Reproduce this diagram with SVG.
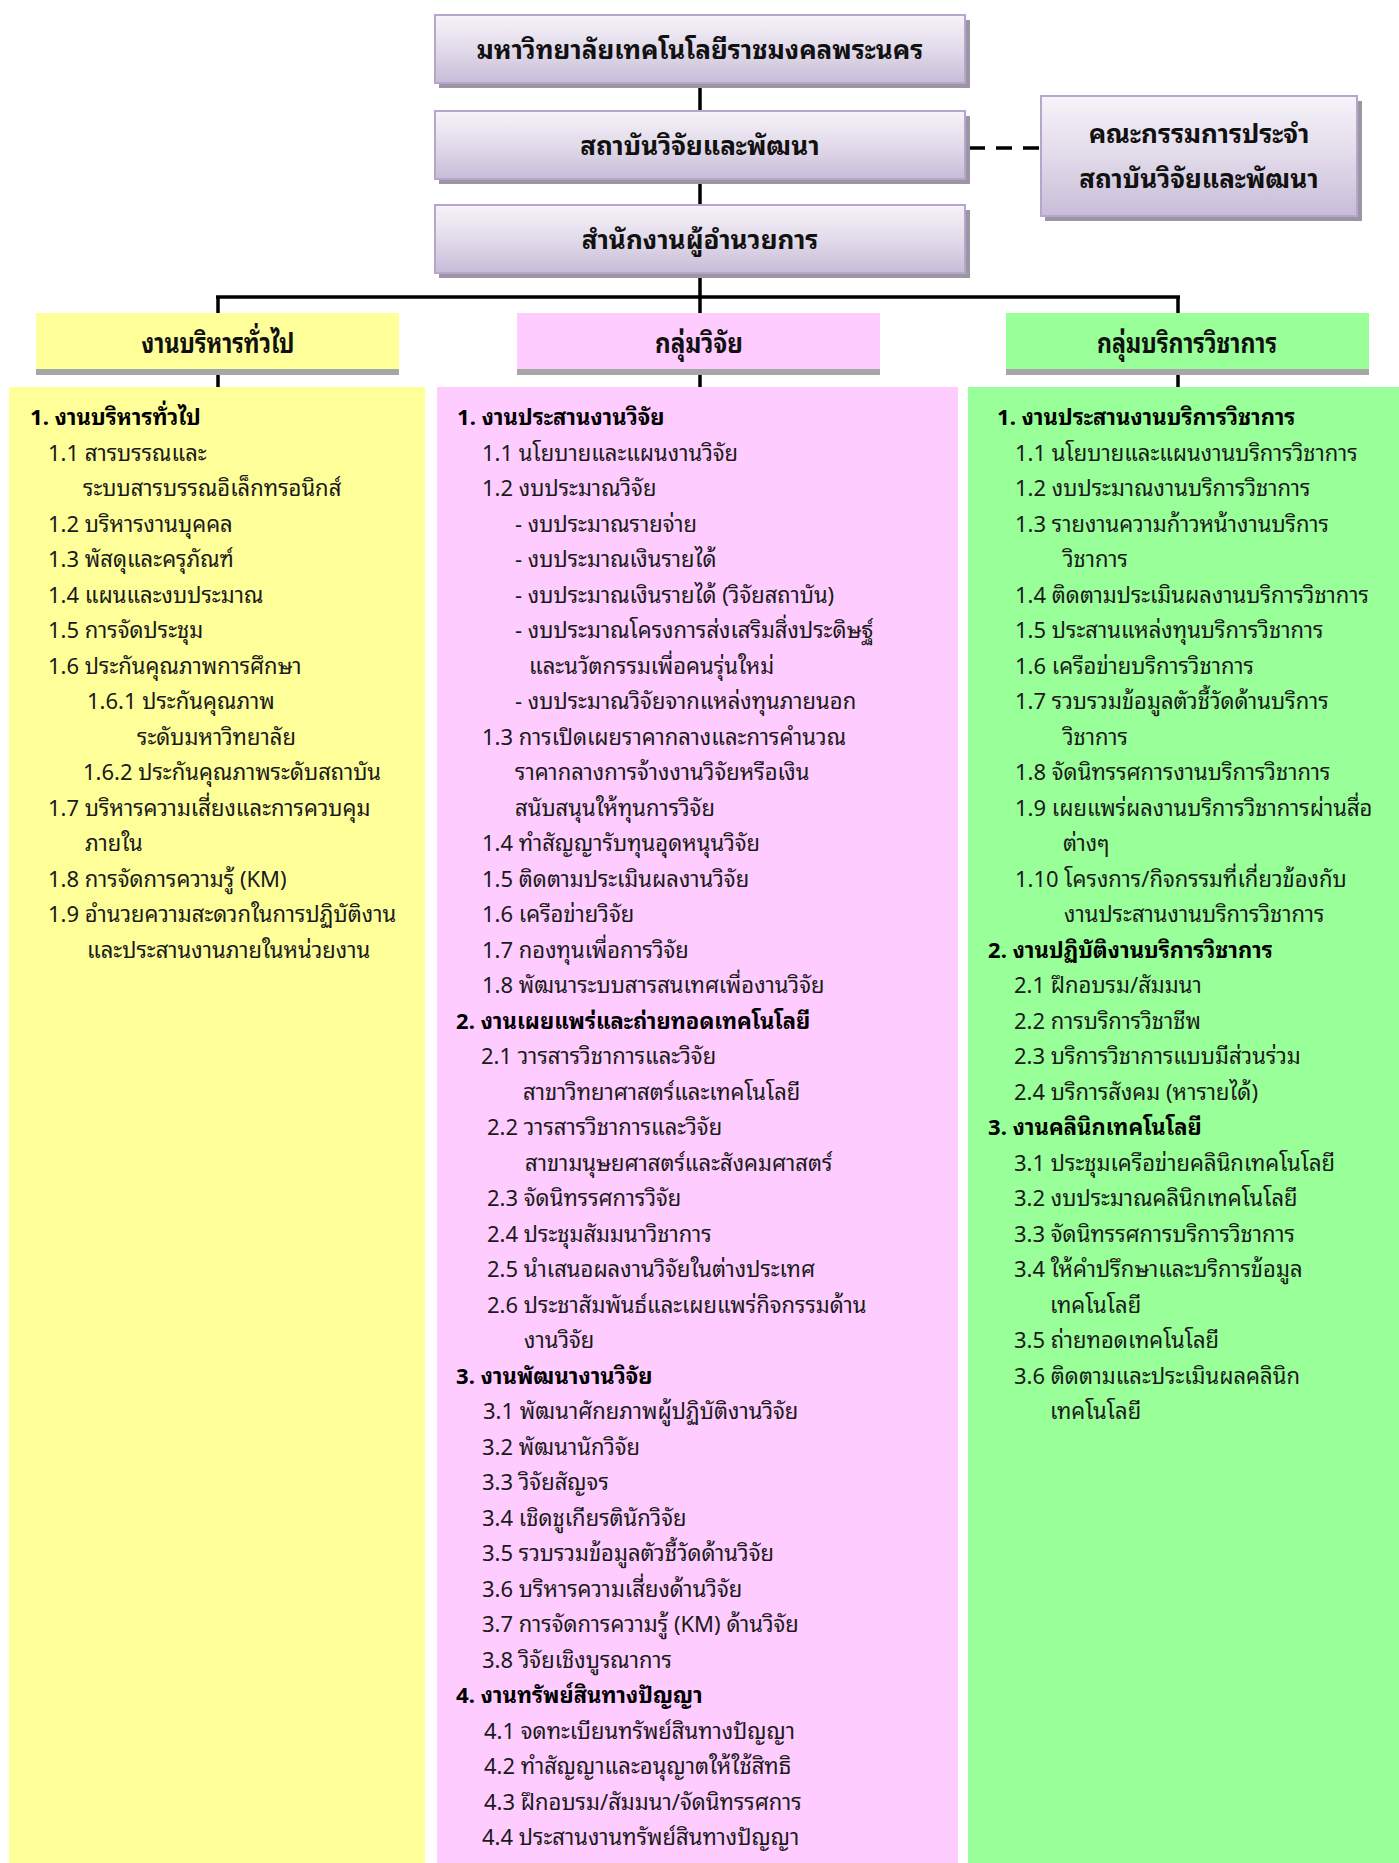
<svg xmlns="http://www.w3.org/2000/svg" width="1399" height="1863" viewBox="0 0 1399 1863">
<defs>
<linearGradient id="lav" x1="0" y1="0" x2="0" y2="1">
<stop offset="0" stop-color="#f6f3f9"/>
<stop offset="0.5" stop-color="#e2dbea"/>
<stop offset="1" stop-color="#c8bcd8"/>
</linearGradient>
<style>
.top{fill:url(#lav);stroke:#b6a6cc;stroke-width:2}
.tsh{fill:#9c96a4}
.tt{font-family:"Noto Sans Thai Looped","Noto Sans",sans-serif;font-size:26px;font-weight:bold;fill:#111;text-anchor:middle}
.hsh{fill:#a6a6a6}
.ht{font-family:"Noto Sans Thai Looped","Noto Sans",sans-serif;font-size:27px;font-weight:bold;fill:#111;text-anchor:middle}
.c{font-family:"Noto Sans Thai Looped","Noto Sans",sans-serif;font-size:22px;fill:#1a1a1a}
.b{font-weight:bold;fill:#000}
.ln{stroke:#000;stroke-width:3.5;fill:none}
.dash{stroke:#000;stroke-width:3.5;stroke-dasharray:16 11;fill:none}
</style>
</defs>
<rect width="1399" height="1863" fill="#fff"/>

<g id="connectors">
<line class="ln" x1="700" y1="88" x2="700" y2="111"/>
<line class="ln" x1="700" y1="184" x2="700" y2="205"/>
<line class="ln" x1="700" y1="278" x2="700" y2="387"/>
<line class="ln" x1="216" y1="297" x2="1180" y2="297"/>
<line class="ln" x1="218" y1="297" x2="218" y2="387"/>
<line class="ln" x1="1178" y1="297" x2="1178" y2="387"/>
<line class="dash" x1="969" y1="148" x2="1040" y2="148"/>
</g>

<g id="node-university">
<rect class="tsh" x="439" y="20" width="531" height="68"/>
<rect class="top" x="435" y="15" width="530" height="68"/>
<text class="tt" x="700" y="59">มหาวิทยาลัยเทคโนโลยีราชมงคลพระนคร</text>
</g>

<g id="node-institute">
<rect class="tsh" x="439" y="116" width="531" height="68"/>
<rect class="top" x="435" y="111" width="530" height="68"/>
<text class="tt" x="700" y="155">สถาบันวิจัยและพัฒนา</text>
</g>

<g id="node-office">
<rect class="tsh" x="439" y="210" width="531" height="68"/>
<rect class="top" x="435" y="205" width="530" height="68"/>
<text class="tt" x="700" y="249">สำนักงานผู้อำนวยการ</text>
</g>

<g id="node-committee">
<rect class="tsh" x="1045" y="101" width="317" height="120"/>
<rect class="top" x="1041" y="96" width="316" height="120"/>
<text class="tt" x="1199" y="143" font-size="27">คณะกรรมการประจำ</text>
<text class="tt" x="1199" y="188" font-size="27">สถาบันวิจัยและพัฒนา</text>
</g>

<g id="node-general-header">
<rect class="hsh" x="36" y="369" width="363" height="6"/>
<rect x="36" y="313" width="363" height="56" fill="#ffff99"/>
<text class="ht" x="218" y="353" textLength="153" lengthAdjust="spacingAndGlyphs">งานบริหารทั่วไป</text>
</g>

<g id="node-research-header">
<rect class="hsh" x="517" y="369" width="363" height="6"/>
<rect x="517" y="313" width="363" height="56" fill="#ffccff"/>
<text class="ht" x="699" y="353" textLength="88" lengthAdjust="spacingAndGlyphs">กลุ่มวิจัย</text>
</g>

<g id="node-service-header">
<rect class="hsh" x="1006" y="369" width="363" height="6"/>
<rect x="1006" y="313" width="363" height="56" fill="#99ff99"/>
<text class="ht" x="1187" y="353" textLength="180" lengthAdjust="spacingAndGlyphs">กลุ่มบริการวิชาการ</text>
</g>

<g id="node-general-list">
<rect x="9" y="387" width="416" height="1476" fill="#ffff99"/>
<text class="c b" x="30" y="425">1. งานบริหารทั่วไป</text>
<text class="c" x="48" y="460.5">1.1 สารบรรณและ</text>
<text class="c" x="83" y="496">ระบบสารบรรณอิเล็กทรอนิกส์</text>
<text class="c" x="48" y="531.5">1.2 บริหารงานบุคคล</text>
<text class="c" x="48" y="567">1.3 พัสดุและครุภัณฑ์</text>
<text class="c" x="48" y="602.5">1.4 แผนและงบประมาณ</text>
<text class="c" x="48" y="638">1.5 การจัดประชุม</text>
<text class="c" x="48" y="673.5">1.6 ประกันคุณภาพการศึกษา</text>
<text class="c" x="87" y="709">1.6.1 ประกันคุณภาพ</text>
<text class="c" x="137" y="744.5">ระดับมหาวิทยาลัย</text>
<text class="c" x="83" y="780">1.6.2 ประกันคุณภาพระดับสถาบัน</text>
<text class="c" x="48" y="815.5">1.7 บริหารความเสี่ยงและการควบคุม</text>
<text class="c" x="85" y="851">ภายใน</text>
<text class="c" x="48" y="886.5">1.8 การจัดการความรู้ (KM)</text>
<text class="c" x="48" y="922">1.9 อำนวยความสะดวกในการปฏิบัติงาน</text>
<text class="c" x="87" y="957.5">และประสานงานภายในหน่วยงาน</text>
</g>

<g id="node-research-list">
<rect x="437" y="387" width="521" height="1476" fill="#ffccff"/>
<text class="c b" x="457" y="425">1. งานประสานงานวิจัย</text>
<text class="c" x="482" y="460.5">1.1 นโยบายและแผนงานวิจัย</text>
<text class="c" x="482" y="496">1.2 งบประมาณวิจัย</text>
<text class="c" x="515" y="531.5">- งบประมาณรายจ่าย</text>
<text class="c" x="515" y="567">- งบประมาณเงินรายได้</text>
<text class="c" x="515" y="602.5">- งบประมาณเงินรายได้ (วิจัยสถาบัน)</text>
<text class="c" x="515" y="638">- งบประมาณโครงการส่งเสริมสิ่งประดิษฐ์</text>
<text class="c" x="529" y="673.5">และนวัตกรรมเพื่อคนรุ่นใหม่</text>
<text class="c" x="515" y="709">- งบประมาณวิจัยจากแหล่งทุนภายนอก</text>
<text class="c" x="482" y="744.5">1.3 การเปิดเผยราคากลางและการคำนวณ</text>
<text class="c" x="515" y="780">ราคากลางการจ้างงานวิจัยหรือเงิน</text>
<text class="c" x="515" y="815.5">สนับสนุนให้ทุนการวิจัย</text>
<text class="c" x="482" y="851">1.4 ทำสัญญารับทุนอุดหนุนวิจัย</text>
<text class="c" x="482" y="886.5">1.5 ติดตามประเมินผลงานวิจัย</text>
<text class="c" x="482" y="922">1.6 เครือข่ายวิจัย</text>
<text class="c" x="482" y="957.5">1.7 กองทุนเพื่อการวิจัย</text>
<text class="c" x="482" y="993">1.8 พัฒนาระบบสารสนเทศเพื่องานวิจัย</text>
<text class="c b" x="456" y="1028.5">2. งานเผยแพร่และถ่ายทอดเทคโนโลยี</text>
<text class="c" x="481" y="1064">2.1 วารสารวิชาการและวิจัย</text>
<text class="c" x="523" y="1099.5">สาขาวิทยาศาสตร์และเทคโนโลยี</text>
<text class="c" x="487" y="1135">2.2 วารสารวิชาการและวิจัย</text>
<text class="c" x="525" y="1170.5">สาขามนุษยศาสตร์และสังคมศาสตร์</text>
<text class="c" x="487" y="1206">2.3 จัดนิทรรศการวิจัย</text>
<text class="c" x="487" y="1241.5">2.4 ประชุมสัมมนาวิชาการ</text>
<text class="c" x="487" y="1277">2.5 นำเสนอผลงานวิจัยในต่างประเทศ</text>
<text class="c" x="487" y="1312.5">2.6 ประชาสัมพันธ์และเผยแพร่กิจกรรมด้าน</text>
<text class="c" x="524" y="1348">งานวิจัย</text>
<text class="c b" x="456" y="1383.5">3. งานพัฒนางานวิจัย</text>
<text class="c" x="483" y="1419">3.1 พัฒนาศักยภาพผู้ปฏิบัติงานวิจัย</text>
<text class="c" x="482" y="1454.5">3.2 พัฒนานักวิจัย</text>
<text class="c" x="482" y="1490">3.3 วิจัยสัญจร</text>
<text class="c" x="482" y="1525.5">3.4 เชิดชูเกียรตินักวิจัย</text>
<text class="c" x="482" y="1561">3.5 รวบรวมข้อมูลตัวชี้วัดด้านวิจัย</text>
<text class="c" x="482" y="1596.5">3.6 บริหารความเสี่ยงด้านวิจัย</text>
<text class="c" x="482" y="1632">3.7 การจัดการความรู้ (KM) ด้านวิจัย</text>
<text class="c" x="482" y="1667.5">3.8 วิจัยเชิงบูรณาการ</text>
<text class="c b" x="456" y="1703">4. งานทรัพย์สินทางปัญญา</text>
<text class="c" x="484" y="1738.5">4.1 จดทะเบียนทรัพย์สินทางปัญญา</text>
<text class="c" x="484" y="1774">4.2 ทำสัญญาและอนุญาตให้ใช้สิทธิ</text>
<text class="c" x="484" y="1809.5">4.3 ฝึกอบรม/สัมมนา/จัดนิทรรศการ</text>
<text class="c" x="482" y="1845">4.4 ประสานงานทรัพย์สินทางปัญญา</text>
</g>

<g id="node-service-list">
<rect x="968" y="387" width="431" height="1476" fill="#99ff99"/>
<text class="c b" x="997" y="425">1. งานประสานงานบริการวิชาการ</text>
<text class="c" x="1015" y="460.5">1.1 นโยบายและแผนงานบริการวิชาการ</text>
<text class="c" x="1015" y="496">1.2 งบประมาณงานบริการวิชาการ</text>
<text class="c" x="1015" y="531.5">1.3 รายงานความก้าวหน้างานบริการ</text>
<text class="c" x="1063" y="567">วิชาการ</text>
<text class="c" x="1015" y="602.5">1.4 ติดตามประเมินผลงานบริการวิชาการ</text>
<text class="c" x="1015" y="638">1.5 ประสานแหล่งทุนบริการวิชาการ</text>
<text class="c" x="1015" y="673.5">1.6 เครือข่ายบริการวิชาการ</text>
<text class="c" x="1015" y="709">1.7 รวบรวมข้อมูลตัวชี้วัดด้านบริการ</text>
<text class="c" x="1063" y="744.5">วิชาการ</text>
<text class="c" x="1015" y="780">1.8 จัดนิทรรศการงานบริการวิชาการ</text>
<text class="c" x="1015" y="815.5">1.9 เผยแพร่ผลงานบริการวิชาการผ่านสื่อ</text>
<text class="c" x="1063" y="851">ต่างๆ</text>
<text class="c" x="1015" y="886.5">1.10 โครงการ/กิจกรรมที่เกี่ยวข้องกับ</text>
<text class="c" x="1064" y="922">งานประสานงานบริการวิชาการ</text>
<text class="c b" x="988" y="957.5">2. งานปฏิบัติงานบริการวิชาการ</text>
<text class="c" x="1014" y="993">2.1 ฝึกอบรม/สัมมนา</text>
<text class="c" x="1014" y="1028.5">2.2 การบริการวิชาชีพ</text>
<text class="c" x="1014" y="1064">2.3 บริการวิชาการแบบมีส่วนร่วม</text>
<text class="c" x="1014" y="1099.5">2.4 บริการสังคม (หารายได้)</text>
<text class="c b" x="988" y="1135">3. งานคลินิกเทคโนโลยี</text>
<text class="c" x="1014" y="1170.5">3.1 ประชุมเครือข่ายคลินิกเทคโนโลยี</text>
<text class="c" x="1014" y="1206">3.2 งบประมาณคลินิกเทคโนโลยี</text>
<text class="c" x="1014" y="1241.5">3.3 จัดนิทรรศการบริการวิชาการ</text>
<text class="c" x="1014" y="1277">3.4 ให้คำปรึกษาและบริการข้อมูล</text>
<text class="c" x="1050" y="1312.5">เทคโนโลยี</text>
<text class="c" x="1014" y="1348">3.5 ถ่ายทอดเทคโนโลยี</text>
<text class="c" x="1014" y="1383.5">3.6 ติดตามและประเมินผลคลินิก</text>
<text class="c" x="1050" y="1419">เทคโนโลยี</text>
</g>
</svg>
